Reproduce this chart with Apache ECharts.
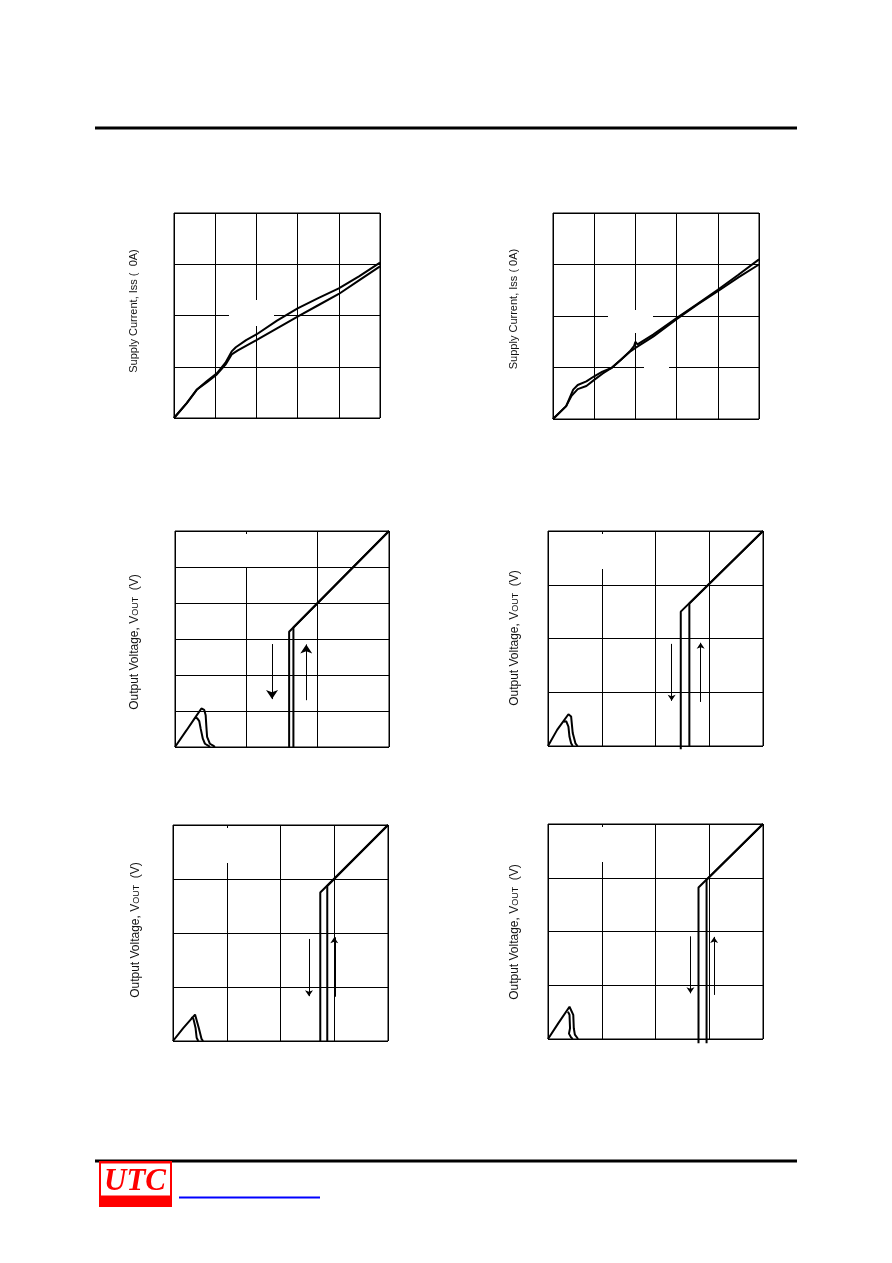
<!DOCTYPE html>
<html>
<head>
<meta charset="utf-8">
<script src="https://cdn.jsdelivr.net/npm/echarts@6/dist/echarts.min.js"></script>
<style>
html,body{margin:0;padding:0;background:#fff;}
#chart{width:892px;height:1263px;}
</style>
</head>
<body>
<div id="chart"></div>
<script>
// ---- Data (grid units) ----
// Chart 1: supply current vs supply voltage (two sweeps)
const c1Upper = [[0,0],[0.31,0.29],[0.55,0.55],[0.8,0.72],[1.04,0.87],[1.25,1.08],[1.4,1.3],[1.5,1.38],[1.75,1.52],[2.0,1.63],[2.5,1.9],[3.0,2.14],[3.5,2.34],[4.0,2.53],[4.5,2.77],[5.0,3.03]];
const c1Lower = [[0,0],[0.31,0.29],[0.55,0.55],[0.8,0.7],[1.04,0.85],[1.25,1.04],[1.4,1.24],[1.55,1.32],[2.0,1.52],[2.5,1.75],[3.0,1.98],[3.5,2.2],[4.0,2.42],[4.5,2.69],[5.0,2.96]];
// Chart 2
const c2Upper = [[0,0],[0.32,0.25],[0.49,0.57],[0.6,0.66],[0.81,0.73],[1.0,0.83],[1.2,0.92],[1.42,0.99],[1.65,1.15],[1.86,1.31],[1.97,1.42],[2.0,1.5],[2.05,1.45],[2.43,1.64],[3.0,1.96],[3.5,2.23],[4.0,2.51],[4.5,2.8],[5.0,3.1]];
const c2Lower = [[0,0],[0.32,0.25],[0.45,0.45],[0.6,0.58],[0.81,0.64],[1.0,0.76],[1.2,0.88],[1.42,0.99],[1.86,1.3],[2.0,1.38],[2.43,1.6],[3.0,1.94],[3.5,2.22],[4.0,2.48],[4.5,2.75],[5.0,3.0]];
// Chart 3: output voltage vs input voltage (hysteresis)
const c3Falling = [[3,6],[1.6,3.2],[1.6,0]];
const c3Rising  = [[1.66,0],[1.66,3.32],[3,6]];
const c3HumpOuter = [[0,0],[0.16,0.46],[0.28,0.81],[0.37,1.07],[0.41,1.03],[0.43,0.88],[0.44,0.56],[0.45,0.28],[0.49,0.09],[0.54,0.03],[0.56,0]];
const c3HumpInner = [[0.28,0.81],[0.31,0.8],[0.34,0.72],[0.36,0.51],[0.39,0.23],[0.42,0.09],[0.47,0.03],[0.49,0]];
const c3ArrowDown = [[1.36,2.86],[1.36,1.33]];
const c3ArrowUp   = [[1.84,1.3],[1.84,2.85]];
// Chart 4
const c4Falling = [[4,4],[2.47,2.5],[2.47,-0.06]];
const c4Rising  = [[2.63,0],[2.63,2.65],[4,4]];
const c4HumpOuter = [[0,0],[0.17,0.3],[0.38,0.59],[0.43,0.55],[0.46,0.24],[0.51,0.05],[0.55,0]];
const c4HumpInner = [[0.29,0.45],[0.34,0.46],[0.38,0.36],[0.4,0.17],[0.43,0.05],[0.46,0]];
const c4ArrowDown = [[2.3,1.9],[2.3,0.84]];
const c4ArrowUp   = [[2.84,0.82],[2.84,1.92]];
// Chart 5
const c5Falling = [[4,4],[2.74,2.75],[2.74,0]];
const c5Rising  = [[2.87,0],[2.87,2.87],[4,4]];
const c5HumpOuter = [[0,0],[0.19,0.24],[0.41,0.49],[0.44,0.48],[0.48,0.24],[0.53,0.04],[0.56,0]];
const c5HumpInner = [[0.34,0.44],[0.38,0.41],[0.42,0.24],[0.44,0.06],[0.47,0]];
const c5ArrowDown = [[2.53,1.89],[2.53,0.83]];
const c5ArrowUp   = [[3.0,0.82],[3.0,1.92]];
// Chart 6
const c6Falling = [[4,4],[2.8,2.82],[2.8,-0.08]];
const c6Rising  = [[2.95,-0.08],[2.95,2.96],[4,4]];
const c6HumpOuter = [[0,0],[0.19,0.29],[0.4,0.6],[0.43,0.58],[0.47,0.45],[0.48,0.2],[0.5,0.08],[0.56,0]];
const c6HumpInner = [[0.37,0.51],[0.4,0.45],[0.41,0.2],[0.39,0.1],[0.43,0.03],[0.46,0]];
const c6ArrowDown = [[2.65,1.91],[2.65,0.85]];
const c6ArrowUp   = [[3.09,0.82],[3.09,1.9]];

// Axis ranges (x divisions, y divisions)
const xMaxes = [5,5,3,4,4,4];
const yMaxes = [4,4,6,4,4,4];
const yLabels = ['Supply Current, Iss (  0A)','Supply Current, Iss ( 0A)','VOUT','VOUT','VOUT','VOUT'];

// ---- Layout ----
const grids = [
  {left:174, top:213, width:206, height:205},
  {left:553, top:213, width:206, height:206},
  {left:175, top:531, width:214, height:216},
  {left:548, top:531, width:215, height:215},
  {left:173, top:825, width:215, height:216},
  {left:548, top:824, width:215, height:215}
];
const labelPos = [[134,311],[514,309],[134,642],[514,638],[135,930],[514,932]];

const chart = echarts.init(document.getElementById('chart'), null, {renderer:'canvas'});

const xAxis = [], yAxis = [];
grids.forEach((g,i)=>{
  const ax = {gridIndex:i, type:'value', min:0, interval:1,
    axisLabel:{show:false}, axisTick:{show:false}, axisLine:{show:false},
    splitLine:{show:true, lineStyle:{color:'#000', width:1}}};
  xAxis.push(Object.assign({}, ax, {max:xMaxes[i]}));
  yAxis.push(Object.assign({}, ax, {max:yMaxes[i]}));
});

function curve(i, data, w){
  return {type:'line', xAxisIndex:i, yAxisIndex:i, data:data, symbol:'none', smooth:false, clip:false,
    lineStyle:{color:'#000', width:w||2}, silent:true, animation:false, z:3};
}
function arrow(i, pts, size, w){
  return {type:'lines', coordinateSystem:'cartesian2d', xAxisIndex:i, yAxisIndex:i,
    symbol:['none','arrow'], symbolSize:size, silent:true, animation:false, z:3,
    lineStyle:{color:'#000', width:w||1, opacity:1},
    data:[{coords:pts}]};
}

const series = [
  curve(0,c1Upper), curve(0,c1Lower),
  curve(1,c2Upper), curve(1,c2Lower),
  curve(2,c3Falling), curve(2,c3Rising), curve(2,c3HumpOuter), curve(2,c3HumpInner),
  arrow(2,c3ArrowDown,9), arrow(2,c3ArrowUp,9),
  curve(3,c4Falling), curve(3,c4Rising), curve(3,c4HumpOuter), curve(3,c4HumpInner),
  arrow(3,c4ArrowDown,6), arrow(3,c4ArrowUp,6),
  curve(4,c5Falling), curve(4,c5Rising), curve(4,c5HumpOuter), curve(4,c5HumpInner),
  arrow(4,c5ArrowDown,6), arrow(4,c5ArrowUp,6,2),
  curve(5,c6Falling), curve(5,c6Rising), curve(5,c6HumpOuter), curve(5,c6HumpInner),
  arrow(5,c6ArrowDown,6), arrow(5,c6ArrowUp,6)
];

// White boxes that interrupt grid lines (as in the original sheet)
const g = grids;
const whiteBoxes = [
  [229,300,45,26],
  [608,310,45,23],
  [644,360,25,13],
  [g[2].left + g[2].width/3 - 3, g[2].top + 3, 6, g[2].height/6 - 3],
  [g[3].left + g[3].width/4 - 3, g[3].top + 3, 6, 35],
  [g[4].left + g[4].width/4 - 3, g[4].top + 3, 6, 35],
  [g[5].left + g[5].width/4 - 3, g[5].top + 3, 6, 35]
];

const graphic = [];
whiteBoxes.forEach(b=>{
  graphic.push({type:'rect', z:1, silent:true, shape:{x:b[0], y:b[1], width:b[2], height:b[3]}, style:{fill:'#fff'}});
});
// axis titles
yLabels.forEach((t,i)=>{
  const p = labelPos[i];
  let style;
  if (t === 'VOUT') {
    style = {text:'{a|Output Voltage, V}{b|OUT}{a|  (V)}', x:0, y:0, align:'center', verticalAlign:'middle',
      rich:{a:{fontSize:12, fontFamily:'Liberation Sans, Arial', fill:'#111', verticalAlign:'bottom', lineHeight:14},
            b:{fontSize:9, fontFamily:'Liberation Sans, Arial', fill:'#111', verticalAlign:'bottom', lineHeight:14, padding:[0,0,1,0]}}};
  } else {
    style = {text:t, x:0, y:0, align:'center', verticalAlign:'middle', fontSize:11, fontFamily:'Liberation Sans, Arial', fill:'#111'};
  }
  graphic.push({type:'text', z:10, silent:true, x:p[0], y:p[1], rotation:Math.PI/2, style:style});
});
// page decoration: header rule, footer rule, UTC logo, link underline
graphic.push({type:'rect', silent:true, shape:{x:95, y:126.5, width:702, height:3}, style:{fill:'#000'}});
graphic.push({type:'rect', silent:true, shape:{x:95, y:1159.5, width:702, height:3}, style:{fill:'#000'}});
graphic.push({type:'rect', silent:true, shape:{x:99, y:1161, width:73, height:46}, style:{fill:'#ff0000'}});
graphic.push({type:'rect', silent:true, shape:{x:101, y:1163.5, width:69, height:32}, style:{fill:'#fff'}});
graphic.push({type:'text', silent:true, z:5, x:135, y:1182, style:{text:'UTC', align:'center', verticalAlign:'middle',
  fontSize:31, fontStyle:'italic', fontWeight:'bold', fontFamily:'Liberation Serif, Times New Roman, serif', fill:'#ff0000'}});
graphic.push({type:'rect', silent:true, shape:{x:179, y:1196.5, width:141, height:2}, style:{fill:'#0000ff'}});

chart.setOption({
  animation:false,
  backgroundColor:'#fff',
  grid: grids.map(gr=>Object.assign({show:true, borderColor:'#000', borderWidth:1, backgroundColor:'transparent', containLabel:false}, gr)),
  xAxis: xAxis,
  yAxis: yAxis,
  series: series,
  graphic: graphic
});
</script>
</body>
</html>
